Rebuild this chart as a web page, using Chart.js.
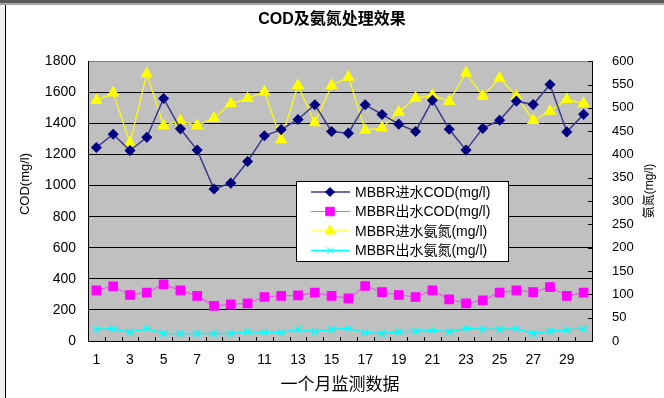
<!DOCTYPE html>
<html>
<head>
<meta charset="utf-8">
<script src="https://cdn.jsdelivr.net/npm/chart.js@4/dist/chart.umd.min.js"></script>
<style>
  html, body { margin: 0; padding: 0; background: #fff; }
  #wrap { width: 664px; height: 398px; }
</style>
</head>
<body>
<div id="wrap"><canvas id="cod" width="664" height="398"></canvas></div>
<script>
// days of the month
const days = ['1','2','3','4','5','6','7','8','9','10','11','12','13','14','15',
              '16','17','18','19','20','21','22','23','24','25','26','27','28','29','30'];
// COD, left axis (mg/l)
const codIn  = [1245,1330,1225,1310,1560,1365,1228,978,1016,1155,1320,1360,1425,1520,1348,
                1337,1520,1457,1395,1348,1548,1362,1228,1368,1420,1543,1521,1650,1345,1458];
const codOut = [326,352,296,311,364,326,290,226,236,242,283,290,294,311,290,
                274,354,315,296,283,326,268,242,262,311,326,315,347,290,311];
// ammonia nitrogen, right axis (mg/l)
const nh3In  = [516,532,425,573,462,472,462,478,509,520,534,432,548,468,548,
                566,452,457,491,521,527,514,575,525,564,525,473,493,518,509];
const nh3Out = [25,26,19,27,16,16,16,16,16,20,19,18,25,20,25,
                27,18,16,20,21,23,20,27,25,25,26,16,21,24,26];

const FONT = "'Liberation Sans', 'Noto Sans CJK SC', sans-serif";

// side titles read bottom-to-top on both axes, so they are drawn here
function sideTitle(ctx, text, x, y, size) {
    ctx.save();
    ctx.translate(x, y);
    ctx.rotate(-Math.PI / 2);
    ctx.font = size + 'px ' + FONT;
    ctx.fillStyle = '#000';
    ctx.textAlign = 'center';
    ctx.textBaseline = 'middle';
    ctx.fillText(text, 0, 0);
    ctx.restore();
}

// window frame, grey plot area, inner tick marks and the boxed legend
const frame = {
    id: 'frame',
    beforeDraw(chart) {
        const {ctx, chartArea: a, width, height} = chart;
        ctx.save();
        ctx.fillStyle = '#fff';
        ctx.fillRect(0, 0, width, height);
        ctx.fillStyle = '#f0f0f0';
        ctx.fillRect(0, 0, 5, height);
        ctx.fillStyle = '#000';
        ctx.fillRect(5, 0, 1, height);
        ctx.fillStyle = '#5a5a5a';
        ctx.fillRect(0, 0, width, 3);
        ctx.fillStyle = '#a8a8a8';
        ctx.fillRect(0, 3, width, 2);
        ctx.fillStyle = '#c0c0c0';
        ctx.fillRect(a.left, a.top, a.right - a.left, a.bottom - a.top);
        ctx.restore();
    },
    afterDraw(chart) {
        const {ctx, chartArea: a} = chart;
        const xs = chart.scales.x, y1 = chart.scales.y1;
        ctx.save();
        ctx.strokeStyle = '#000';
        ctx.lineWidth = 1;
        ctx.beginPath();
        for (let i = 0; i <= days.length; i++) {
            const x = Math.round(xs.getPixelForValue(i - 0.5)) + 0.5;
            ctx.moveTo(x, a.bottom);
            ctx.lineTo(x, a.bottom - 4);
        }
        y1.ticks.forEach(t => {
            const y = Math.round(y1.getPixelForValue(t.value)) + 0.5;
            ctx.moveTo(a.right, y);
            ctx.lineTo(a.right - 4, y);
        });
        ctx.stroke();

        // legend box
        const bx = 296, by = 181, bw = 212, bh = 80;
        ctx.fillStyle = '#fff';
        ctx.fillRect(bx, by, bw, bh);
        ctx.strokeStyle = '#000';
        ctx.strokeRect(bx + 0.5, by + 0.5, bw, bh);
        ctx.font = '14px ' + FONT;
        ctx.textBaseline = 'middle';
        chart.data.datasets.forEach((ds, i) => {
            const y = by + 11 + i * 19.5;
            ctx.strokeStyle = ds.borderColor;
            ctx.lineWidth = ds.borderWidth;
            ctx.beginPath();
            ctx.moveTo(bx + 15, y);
            ctx.lineTo(bx + 54, y);
            ctx.stroke();
            ctx.fillStyle = ds.pointBackgroundColor;
            ctx.strokeStyle = ds.pointBorderColor;
            ctx.lineWidth = 1;
            Chart.helpers.drawPoint(ctx, {pointStyle: ds.pointStyle, radius: ds.pointRadius,
                rotation: 0, borderWidth: 1}, bx + 34, y);
            ctx.fillStyle = '#000';
            ctx.fillText(ds.label, bx + 59, y + 1);
        });
        ctx.restore();

        sideTitle(ctx, 'COD(mg/l)', 25, 184, 13);
        sideTitle(ctx, '氨氮(mg/l)', 650, 191, 12);
    }
};

new Chart(document.getElementById('cod'), {
    type: 'line',
    data: {
        labels: days,
        datasets: [
            {
                label: 'MBBR进水COD(mg/l)',
                data: codIn,
                yAxisID: 'y',
                borderColor: '#3a3a8e',
                borderWidth: 1.5,
                pointStyle: 'rectRot',
                pointRadius: 4.5,
                pointBackgroundColor: '#000080',
                pointBorderColor: '#000080'
            },
            {
                label: 'MBBR出水COD(mg/l)',
                data: codOut,
                yAxisID: 'y',
                borderColor: '#ee55ee',
                borderWidth: 1.2,
                pointStyle: 'rect',
                pointRadius: 6,
                pointBackgroundColor: '#ff00ff',
                pointBorderColor: '#ff00ff'
            },
            {
                label: 'MBBR进水氨氮(mg/l)',
                data: nh3In,
                yAxisID: 'y1',
                borderColor: '#ffff00',
                borderWidth: 1.2,
                pointStyle: 'triangle',
                pointRadius: 6,
                pointBackgroundColor: '#ffff00',
                pointBorderColor: '#ffff00'
            },
            {
                label: 'MBBR出水氨氮(mg/l)',
                data: nh3Out,
                yAxisID: 'y1',
                borderColor: '#00ffff',
                borderWidth: 1.5,
                pointStyle: 'crossRot',
                pointRadius: 4.5,
                pointBackgroundColor: '#00ffff',
                pointBorderColor: '#00ffff'
            }
        ]
    },
    options: {
        responsive: false,
        animation: false,
        devicePixelRatio: 1,
        layout: { padding: 0 },
        scales: {
            x: {
                type: 'category',
                offset: true,
                grid: { display: false, drawTicks: false },
                border: { display: true, color: '#000', width: 1 },
                ticks: {
                    autoSkip: false,
                    maxRotation: 0,
                    padding: 11,
                    color: '#000',
                    font: { family: FONT, size: 14 },
                    callback: (v, i) => (i % 2 === 0 ? days[i] : '')
                },
                title: {
                    display: true,
                    text: '一个月监测数据',
                    color: '#000',
                    font: { family: FONT, size: 17 },
                    padding: { top: 0, bottom: 2 }
                },
                afterFit: s => { s.height = 57; }
            },
            y: {
                position: 'left',
                min: 0,
                max: 1800,
                ticks: {
                    stepSize: 200,
                    padding: 12,
                    color: '#000',
                    font: { family: FONT, size: 14 },
                    callback: v => String(v)
                },
                grid: {
                    drawTicks: false,
                    lineWidth: 1,
                    color: c => (c.tick && c.tick.value === 1800 ? '#808080' : '#000')
                },
                border: { display: true, color: '#000', width: 1 },
                afterFit: s => { s.width = 88; }
            },
            y1: {
                position: 'right',
                min: 0,
                max: 600,
                ticks: {
                    stepSize: 50,
                    padding: 20,
                    color: '#000',
                    font: { family: FONT, size: 13 },
                    callback: v => String(v)
                },
                grid: { drawOnChartArea: false, drawTicks: false },
                border: { display: true, color: '#000', width: 1 },
                afterFit: s => { s.width = 72; }
            }
        },
        plugins: {
            legend: { display: false },
            tooltip: { enabled: false },
            title: {
                display: true,
                text: 'COD及氨氮处理效果',
                color: '#000',
                font: { family: FONT, size: 16, weight: 'bold' },
                padding: { top: 10, bottom: 32 }
            }
        }
    },
    plugins: [frame]
});
</script>
</body>
</html>
